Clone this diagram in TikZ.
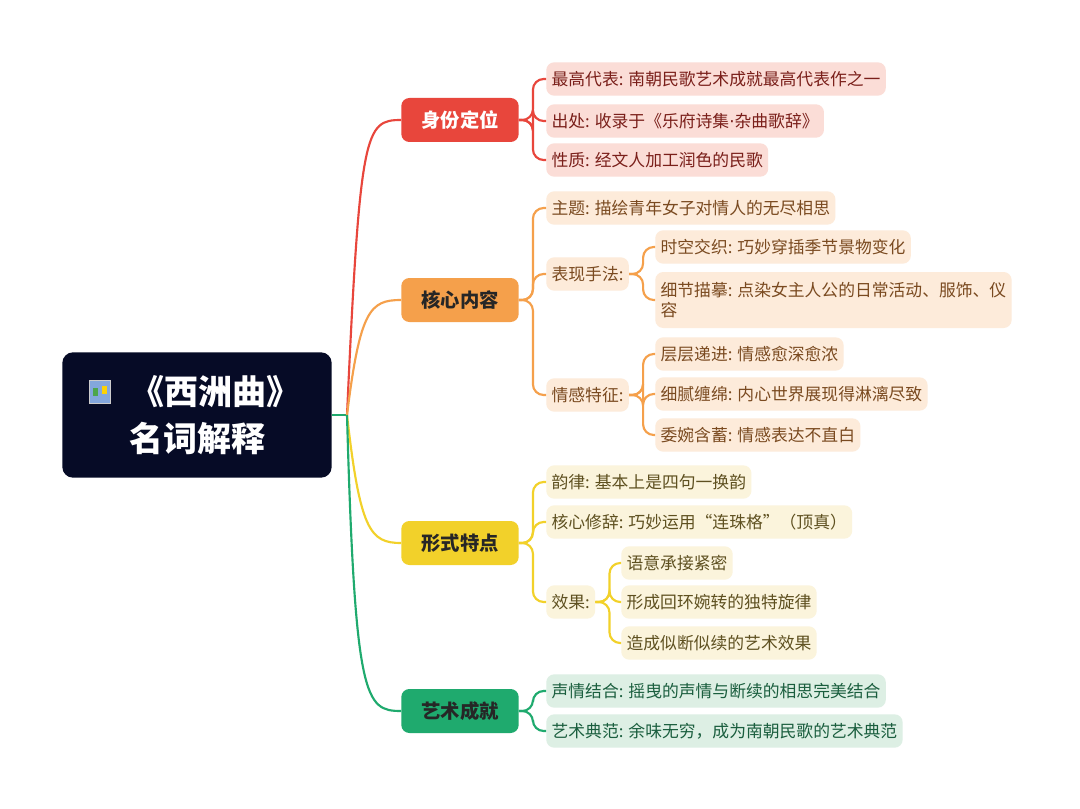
\documentclass[tikz,border=0pt]{standalone}
\usepackage{fontspec}
\setmainfont{Noto Sans CJK SC}
\begin{document}
\begin{tikzpicture}[x=0.75pt,y=-0.75pt,
  leaf/.style={anchor=west,rounded corners=6pt,inner sep=4pt,minimum height=25pt,font=\fontsize{12.6}{16}\selectfont},
  lr/.style={leaf,fill=rfill,text=rtext},
  lo/.style={leaf,fill=ofill,text=otext},
  ly/.style={leaf,fill=yfill,text=ytext},
  lg/.style={leaf,fill=gfill,text=gtext},
  br/.style={rounded corners=6pt,minimum width=88pt,minimum height=33pt,font=\fontsize{14.5}{16}\selectfont\bfseries},
  ln/.style={line width=1.6pt,rounded corners=8pt}]
\definecolor{cr}{HTML}{E8463C}\definecolor{rfill}{HTML}{FBDDD7}\definecolor{rtext}{HTML}{7A1F1A}
\definecolor{co}{HTML}{F5A04B}\definecolor{ofill}{HTML}{FDEBDA}\definecolor{otext}{HTML}{7A4A20}
\definecolor{cy}{HTML}{F2D12A}\definecolor{yfill}{HTML}{FBF4DC}\definecolor{ytext}{HTML}{5E5020}
\definecolor{cg}{HTML}{1FAA6E}\definecolor{gfill}{HTML}{DDEFE4}\definecolor{gtext}{HTML}{1A5E3E}
\definecolor{rootc}{HTML}{060B26}
\useasboundingbox[fill=white] (0,0) rectangle (1080,809);
% root
\node[fill=rootc,rounded corners=8pt,minimum width=202pt,minimum height=94pt] (root) at (197,415) {};
\node[text=white,font=\fontsize{25.5}{29}\selectfont\bfseries] (roott1) at (215,392) {《西洲曲》};
\node[text=white,font=\fontsize{25.5}{29}\selectfont\bfseries] (roott2) at (197,439) {名词解释};
\begin{scope}[shift={(100,392)}]
\node[fill=cyan!50!blue!50,minimum width=16pt,minimum height=17pt,inner sep=0pt,draw=gray!40] (icon) at (0,0) {};
\fill[green!50!black!70] (-7,-4) rectangle (-2,4);
\fill[yellow!70!orange] (2,-6) rectangle (7,2);
\end{scope}
\coordinate (hub) at (347,415);
% branches
\node[br,fill=cr,text=white] (b1) at (460,120) {身份定位};
\node[br,fill=co,text=black!85] (b2) at (460,300) {核心内容};
\node[br,fill=cy,text=black!85] (b3) at (460,543) {形式特点};
\node[br,fill=cg,text=black!85] (b4) at (460,711) {艺术成就};
\draw[cg,line width=1.6pt] (root.east) -- (hub);
\draw[cr,line width=1.6pt] (hub) .. controls (360,130) and (365,120) .. (b1.west);
\draw[co,line width=1.6pt] (hub) .. controls (360,310) and (370,300) .. (b2.west);
\draw[cy,line width=1.6pt] (hub) .. controls (360,530) and (370,543) .. (b3.west);
\draw[cg,line width=1.6pt] (hub) .. controls (355,700) and (365,711) .. (b4.west);
% red leaves
\node[lr] (r1) at (546,79) {最高代表: 南朝民歌艺术成就最高代表作之一};
\node[lr] (r2) at (546,121) {出处: 收录于《乐府诗集{\fontspec{DejaVu Sans}·}杂曲歌辞》};
\node[lr] (r3) at (546,160) {性质: 经文人加工润色的民歌};
\foreach \n in {r1,r2,r3} \draw[ln,cr] (b1.east) -- ++(14,0) |- (\n.west);
% orange
\node[lo] (o1) at (546,208) {主题: 描绘青年女子对情人的无尽相思};
\node[lo] (o2) at (546,274) {表现手法:};
\node[lo] (o3) at (546,395) {情感特征:};
\foreach \n in {o1,o2,o3} \draw[ln,co] (b2.east) -- ++(14,0) |- (\n.west);
\node[lo] (o21) at (655,247) {时空交织: 巧妙穿插季节景物变化};
\node[lo,align=left,minimum height=42pt,inner ysep=3pt,font=\fontsize{12.6}{15}\selectfont] (o22) at (655,300) {细节描摹: 点染女主人公的日常活动、服饰、仪\\容};
\foreach \n in {o21,o22} \draw[ln,co] (o2.east) -- ++(14,0) |- (\n.west);
\node[lo] (o31) at (655,354) {层层递进: 情感愈深愈浓};
\node[lo] (o32) at (655,394) {细腻缠绵: 内心世界展现得淋漓尽致};
\node[lo] (o33) at (655,435) {委婉含蓄: 情感表达不直白};
\foreach \n in {o31,o32,o33} \draw[ln,co] (o3.east) -- ++(14,0) |- (\n.west);
% yellow
\node[ly] (y1) at (546,482) {韵律: 基本上是四句一换韵};
\node[ly] (y2) at (546,522) {核心修辞: 巧妙运用“连珠格”（顶真）};
\node[ly] (y3) at (546,602) {效果:};
\foreach \n in {y1,y2,y3} \draw[ln,cy] (b3.east) -- ++(14,0) |- (\n.west);
\node[ly] (y31) at (621,563) {语意承接紧密};
\node[ly] (y32) at (621,602) {形成回环婉转的独特旋律};
\node[ly] (y33) at (621,643) {造成似断似续的艺术效果};
\foreach \n in {y31,y32,y33} \draw[ln,cy] (y3.east) -- ++(14,0) |- (\n.west);
% green
\node[lg] (g1) at (546,691) {声情结合: 摇曳的声情与断续的相思完美结合};
\node[lg] (g2) at (546,731) {艺术典范: 余味无穷，成为南朝民歌的艺术典范};
\foreach \n in {g1,g2} \draw[ln,cg] (b4.east) -- ++(14,0) |- (\n.west);
\end{tikzpicture}
\end{document}
